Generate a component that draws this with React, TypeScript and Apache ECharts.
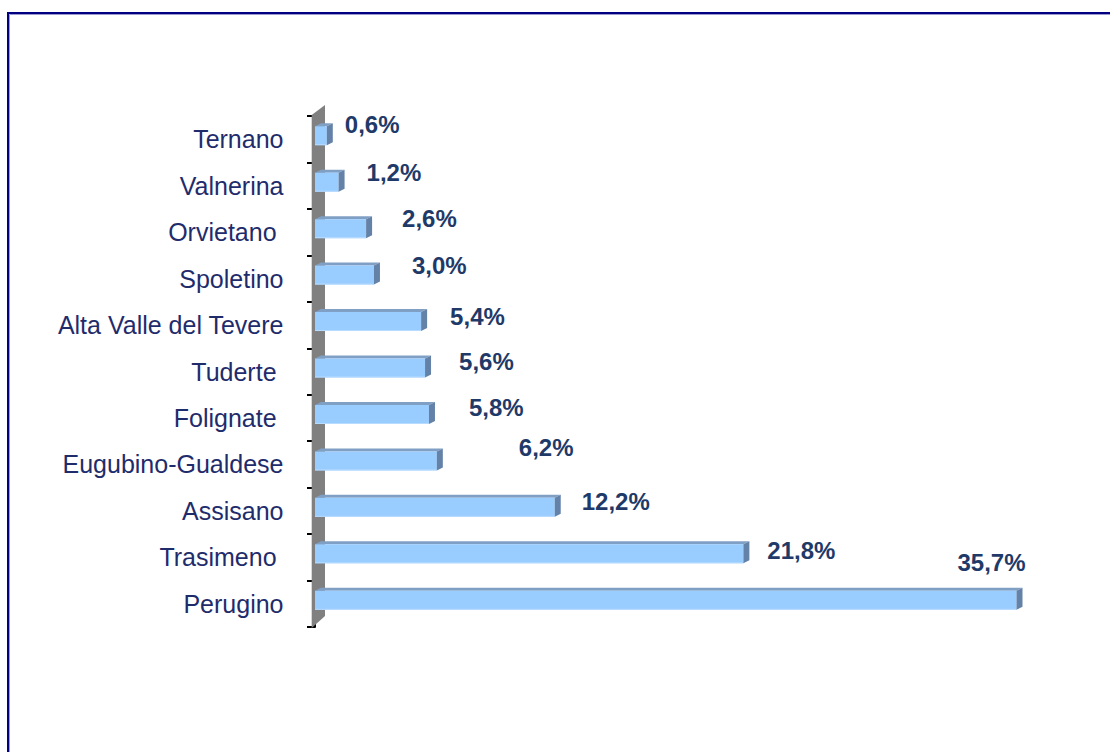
import React, { useEffect, useRef } from "react";
import * as echarts from "echarts";

// Categories top-to-bottom as shown
const categories = [
  "Ternano",
  "Valnerina",
  "Orvietano ",
  "Spoletino",
  "Alta Valle del Tevere",
  "Tuderte ",
  "Folignate ",
  "Eugubino-Gualdese",
  "Assisano",
  "Trasimeno ",
  "Perugino",
];

// Share (%) per area
const shares = [0.6, 1.2, 2.6, 3.0, 5.4, 5.6, 5.8, 6.2, 12.2, 21.8, 35.7];

// Manual label nudges (gap after bar end, vertical shift from band centre), as placed in the original
const labelGapX = [12, 22, 30, 32, 23, 28, 34, 76, 21, 18, -65];
const labelShiftY = [-15, -13, -14, -13, -9, -10, -10, -17, -9, -7, -41];

const fmt = (v: number) => v.toFixed(1).replace(".", ",") + "%";

const FRONT = "#99ccff";
const TOP = "#7f9fc4";
const SIDE = "#6482a8";
const DX = 6;
const DY = 3;

export default function App() {
  const ref = useRef<HTMLDivElement>(null);

  useEffect(() => {
    if (!ref.current) return;
    const chart = echarts.init(ref.current, undefined, { renderer: "svg" });

    const option: any = {
      animation: false,
      backgroundColor: "#ffffff",
      graphic: [
        {
          type: "rect",
          silent: true,
          shape: { x: 8, y: 13, width: 1200, height: 800 },
          style: { fill: "none", stroke: "#000080", lineWidth: 2 },
        },
        {
          type: "rect",
          silent: true,
          shape: { x: 9.5, y: 14.5, width: 1200, height: 800 },
          style: { fill: "none", stroke: "#9a9ad0", lineWidth: 1 },
        },
      ],
      grid: { left: 315, top: 116, width: 786, height: 511, containLabel: false },
      xAxis: { type: "value", min: 0, max: 40, show: false },
      yAxis: {
        type: "category",
        inverse: true,
        data: categories,
        offset: 4.5,
        axisLine: { show: true, lineStyle: { color: "#000000", width: 2 } },
        axisTick: { show: true, length: 8, lineStyle: { color: "#000000", width: 2 } },
        axisLabel: {
          margin: 27,
          color: "#1f2c6c",
          fontSize: 25,
          fontFamily: "Liberation Sans, Arial, sans-serif",
        },
        splitLine: { show: false },
      },
      series: [
        {
          type: "custom",
          name: "wall",
          z: 1,
          silent: true,
          clip: false,
          data: [[0, 0]],
          renderItem: (params: any, api: any) => {
            const band = api.size([0, 1])[1];
            const topC = api.coord([0, 0]);
            const botC = api.coord([0, categories.length - 1]);
            const x0 = topC[0];
            const top = topC[1] - band / 2;
            const bottom = botC[1] + band / 2;
            return {
              type: "polygon",
              shape: {
                points: [
                  [x0 - 3.3, top - 1],
                  [x0 + 10, top - 11],
                  [x0 + 10, bottom - 11],
                  [x0 - 3.3, bottom + 1],
                ],
              },
              style: { fill: "#808080" },
            };
          },
        },
        {
          type: "custom",
          name: "share",
          z: 3,
          clip: false,
          data: shares.map((v, i) => [v, i]),
          encode: { x: 0, y: 1 },
          renderItem: (params: any, api: any) => {
            const v = api.value(0);
            const i = api.value(1);
            const start = api.coord([0, i]);
            const end = api.coord([v, i]);
            const c = start[1];
            const x0 = start[0];
            const x1 = end[0];
            const yT = c - 13;
            const yB = c + 6;
            return {
              type: "group",
              children: [
                {
                  type: "polygon",
                  shape: {
                    points: [
                      [x0, yT],
                      [x1, yT],
                      [x1 + DX, yT - DY],
                      [x0 + DX, yT - DY],
                    ],
                  },
                  style: { fill: TOP },
                },
                {
                  type: "rect",
                  shape: { x: x0, y: yT, width: x1 - x0, height: yB - yT },
                  style: { fill: FRONT },
                },
                {
                  type: "line",
                  shape: { x1: x0, y1: yB - 0.5, x2: x1, y2: yB - 0.5 },
                  style: { stroke: "#b8dcff", lineWidth: 1 },
                },
                {
                  type: "polygon",
                  shape: {
                    points: [
                      [x1, yT],
                      [x1 + DX, yT - DY],
                      [x1 + DX, yB - DY],
                      [x1, yB],
                    ],
                  },
                  style: { fill: SIDE },
                },
                {
                  type: "text",
                  style: {
                    text: fmt(shares[i]),
                    x: x1 + DX + labelGapX[i],
                    y: c + labelShiftY[i],
                    fill: "#1f3a68",
                    font: 'bold 24px "Liberation Sans", Arial, sans-serif',
                    align: "left",
                    verticalAlign: "middle",
                  },
                },
              ],
            };
          },
        },
      ],
    };

    chart.setOption(option);
    return () => chart.dispose();
  }, []);

  return (
    <div
      ref={ref}
      style={{ position: "absolute", left: 0, top: 0, width: 1110, height: 752 }}
    />
  );
}
